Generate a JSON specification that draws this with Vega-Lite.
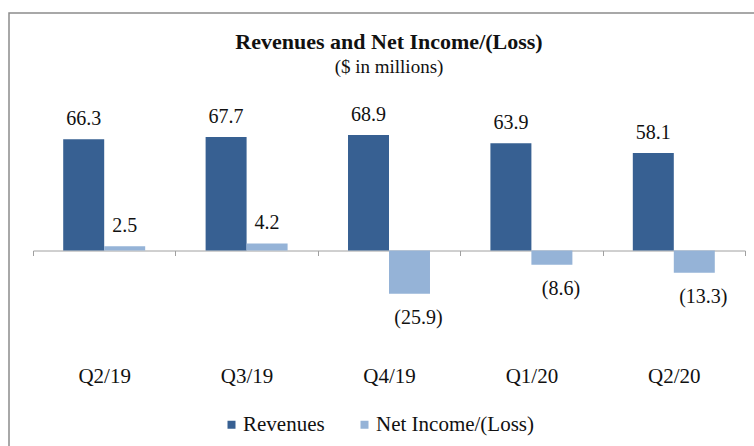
{
  "$schema": "https://vega.github.io/schema/vega-lite/v6.json",
  "autosize": "none",
  "width": 760,
  "height": 440,
  "padding": {"left": 9, "top": 13, "right": 0, "bottom": 0},
  "background": "white",
  "title": {
    "text": "Revenues and Net Income/(Loss)",
    "subtitle": "($ in millions)",
    "anchor": "middle",
    "frame": "group",
    "offset": -65,
    "font": "Liberation Serif",
    "fontSize": 22,
    "fontWeight": "bold",
    "color": "#111111",
    "subtitleFont": "Liberation Serif",
    "subtitleFontSize": 19,
    "subtitleColor": "#111111",
    "subtitlePadding": 4
  },
  "config": {
    "view": {"stroke": "#8c8c8c", "strokeWidth": 1.5},
    "axis": {"grid": false}
  },
  "data": {
    "values": [
      {"quarter": "Q2/19", "series": "Revenues", "value": 66.3},
      {"quarter": "Q2/19", "series": "Net Income/(Loss)", "value": 2.5},
      {"quarter": "Q3/19", "series": "Revenues", "value": 67.7},
      {"quarter": "Q3/19", "series": "Net Income/(Loss)", "value": 4.2},
      {"quarter": "Q4/19", "series": "Revenues", "value": 68.9},
      {"quarter": "Q4/19", "series": "Net Income/(Loss)", "value": -25.9},
      {"quarter": "Q1/20", "series": "Revenues", "value": 63.9},
      {"quarter": "Q1/20", "series": "Net Income/(Loss)", "value": -8.6},
      {"quarter": "Q2/20", "series": "Revenues", "value": 58.1},
      {"quarter": "Q2/20", "series": "Net Income/(Loss)", "value": -13.3}
    ]
  },
  "encoding": {
    "x": {
      "field": "quarter",
      "type": "nominal",
      "sort": ["Q2/19", "Q3/19", "Q4/19", "Q1/20", "Q2/20"],
      "scale": {"range": [24, 736], "paddingInner": 0, "paddingOuter": 0},
      "axis": {
        "title": null,
        "offset": -202.5,
        "domainColor": "#a0a0a0",
        "tickColor": "#a0a0a0",
        "tickSize": 5,
        "tickBand": "extent",
        "labelAngle": 0,
        "labelFont": "Liberation Serif",
        "labelFontSize": 21,
        "labelColor": "#111111",
        "labelBaseline": "middle",
        "labelPadding": 121
      }
    },
    "xOffset": {
      "field": "series",
      "type": "nominal",
      "sort": ["Revenues", "Net Income/(Loss)"],
      "scale": {"paddingInner": 0, "paddingOuter": 0.737}
    },
    "y": {
      "field": "value",
      "type": "quantitative",
      "scale": {"domain": [-120.8, 141.6], "nice": false, "zero": false},
      "axis": null
    }
  },
  "layer": [
    {
      "mark": {"type": "bar"},
      "encoding": {
        "color": {
          "field": "series",
          "type": "nominal",
          "sort": ["Revenues", "Net Income/(Loss)"],
          "scale": {"domain": ["Revenues", "Net Income/(Loss)"], "range": ["#376092", "#95B3D7"]},
          "legend": {
            "orient": "none",
            "legendX": 212,
            "legendY": 401,
            "direction": "horizontal",
            "title": null,
            "symbolType": "square",
            "symbolSize": 64,
            "symbolStrokeWidth": 0,
            "labelFont": "Liberation Serif",
            "labelFontSize": 21,
            "labelColor": "#111111",
            "labelOffset": 1,
            "columnPadding": 29
          }
        }
      }
    },
    {
      "transform": [{"filter": "datum.value >= 0"}],
      "mark": {"type": "text", "baseline": "alphabetic", "dy": -14, "font": "Liberation Serif", "fontSize": 20, "color": "#111111"},
      "encoding": {"text": {"field": "value", "type": "quantitative", "format": ".1f"}}
    },
    {
      "transform": [{"filter": "datum.value < 0"}],
      "mark": {"type": "text", "baseline": "middle", "dy": 24, "dx": 9, "font": "Liberation Serif", "fontSize": 20, "color": "#111111"},
      "encoding": {"text": {"field": "value", "type": "quantitative", "format": "(.1f"}}
    }
  ]
}
